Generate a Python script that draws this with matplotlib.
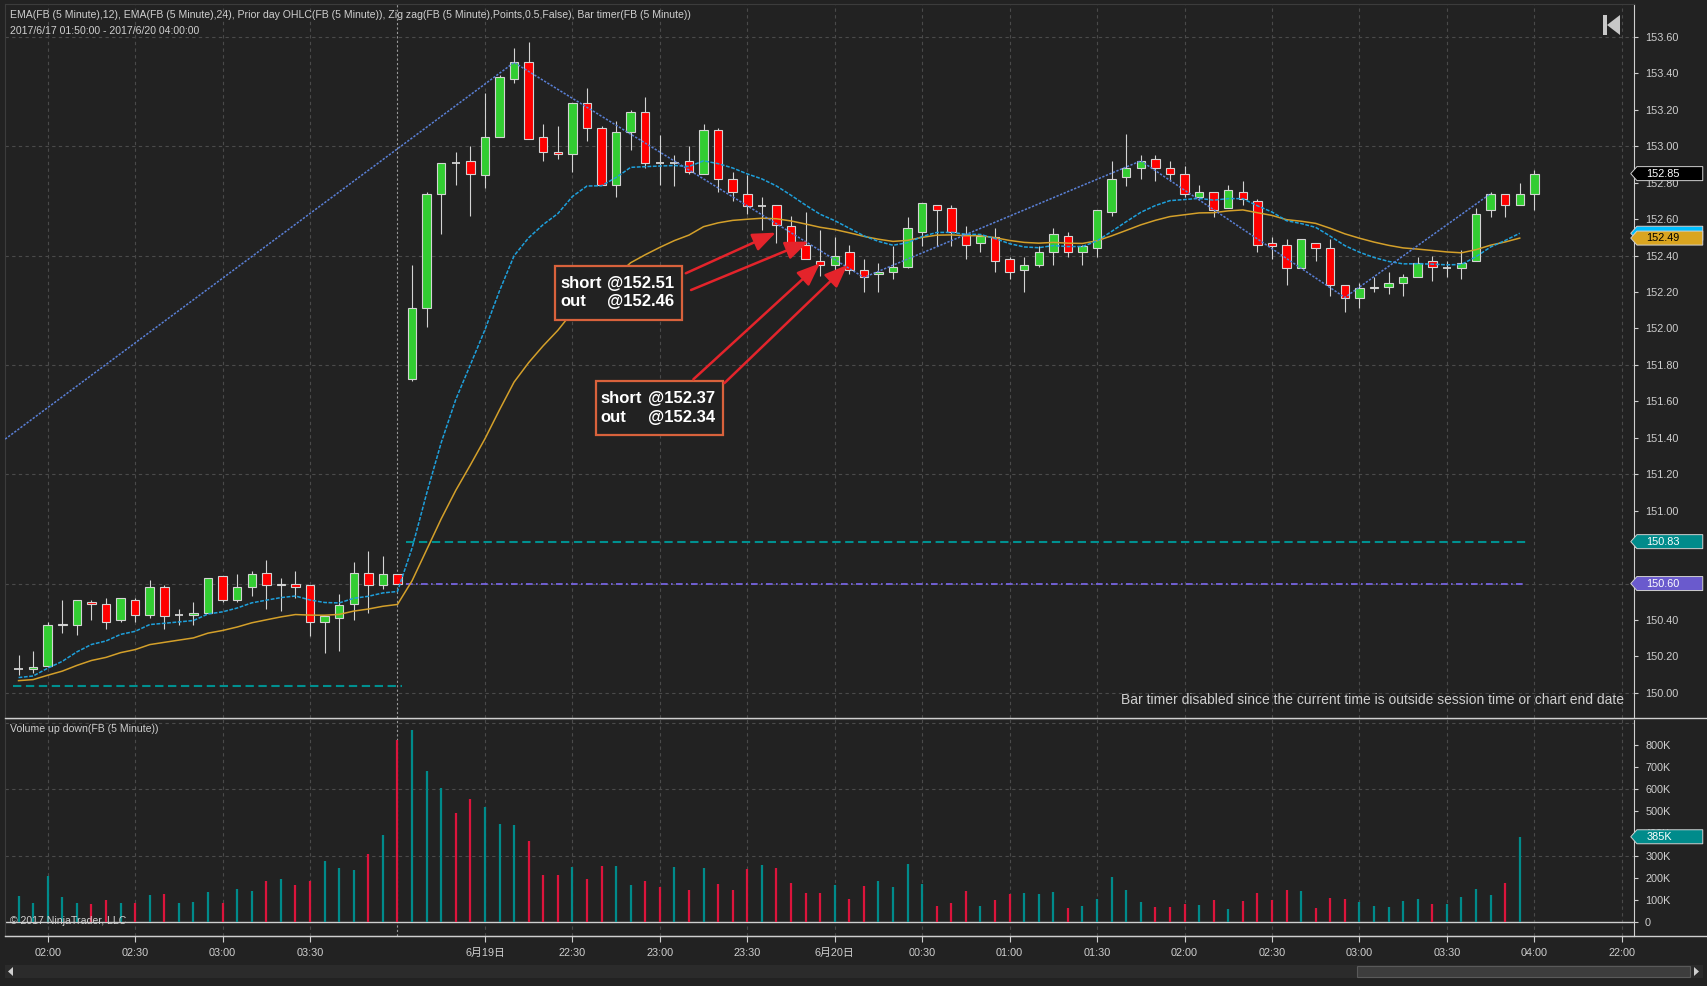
import numpy as np
import matplotlib
matplotlib.use("Agg")
import matplotlib.pyplot as plt
from matplotlib.patches import Rectangle, Polygon
from matplotlib.lines import Line2D
from matplotlib.transforms import blended_transform_factory

# ---- FB 5-minute bars (index 0 = 2017/6/17 01:50) ----
opens = [150.13, 150.13, 150.15, 150.37, 150.37, 150.50, 150.49, 150.40, 150.51, 150.43,
         150.58, 150.43, 150.43, 150.44, 150.64, 150.51, 150.58, 150.66, 150.59, 150.60,
         150.59, 150.39, 150.41, 150.49, 150.66, 150.59, 150.65, 151.72, 152.11, 152.74,
         152.91, 152.92, 152.84, 153.05, 153.37, 153.46, 153.05, 152.97, 152.96, 153.24,
         153.10, 152.79, 153.08, 153.19, 152.91, 152.91, 152.92, 152.85, 153.09, 152.82,
         152.74, 152.67, 152.68, 152.56, 152.46, 152.37, 152.35, 152.42, 152.32, 152.30,
         152.31, 152.34, 152.53, 152.68, 152.66, 152.52, 152.47, 152.50, 152.38, 152.32,
         152.35, 152.42, 152.51, 152.42, 152.44, 152.64, 152.83, 152.88, 152.93, 152.88,
         152.85, 152.72, 152.75, 152.66, 152.75, 152.70, 152.47, 152.46, 152.33, 152.47,
         152.44, 152.24, 152.17, 152.22, 152.23, 152.25, 152.28, 152.37, 152.33, 152.33,
         152.37, 152.65, 152.74, 152.68, 152.74]
highs = [150.21, 150.23, 150.39, 150.51, 150.51, 150.51, 150.52, 150.52, 150.52, 150.62,
         150.59, 150.46, 150.50, 150.63, 150.64, 150.65, 150.67, 150.73, 150.63, 150.67,
         150.59, 150.42, 150.54, 150.72, 150.78, 150.75, 150.65, 152.35, 152.75, 152.91,
         152.97, 153.00, 153.29, 153.39, 153.54, 153.57, 153.12, 153.11, 153.24, 153.32,
         153.11, 153.14, 153.20, 153.27, 153.06, 152.95, 153.00, 153.12, 153.10, 152.86,
         152.84, 152.72, 152.68, 152.62, 152.64, 152.54, 152.50, 152.46, 152.38, 152.36,
         152.45, 152.61, 152.69, 152.68, 152.68, 152.56, 152.51, 152.55, 152.39, 152.39,
         152.45, 152.55, 152.53, 152.46, 152.65, 152.92, 153.07, 152.95, 152.95, 152.92,
         152.89, 152.79, 152.75, 152.79, 152.81, 152.71, 152.50, 152.49, 152.49, 152.47,
         152.49, 152.24, 152.25, 152.28, 152.31, 152.30, 152.39, 152.40, 152.37, 152.43,
         152.66, 152.75, 152.74, 152.80, 152.87]
lows = [150.10, 150.11, 150.14, 150.33, 150.32, 150.40, 150.35, 150.39, 150.39, 150.41,
        150.35, 150.37, 150.37, 150.44, 150.50, 150.50, 150.53, 150.46, 150.45, 150.52,
        150.31, 150.22, 150.23, 150.40, 150.44, 150.57, 150.60, 151.71, 152.01, 152.52,
        152.79, 152.62, 152.77, 153.05, 153.35, 153.04, 152.92, 152.93, 152.86, 153.03,
        152.79, 152.72, 152.98, 152.88, 152.79, 152.78, 152.85, 152.85, 152.75, 152.70,
        152.63, 152.54, 152.47, 152.43, 152.38, 152.29, 152.29, 152.30, 152.20, 152.20,
        152.27, 152.33, 152.45, 152.45, 152.45, 152.38, 152.42, 152.31, 152.27, 152.20,
        152.34, 152.35, 152.39, 152.35, 152.39, 152.62, 152.78, 152.82, 152.81, 152.81,
        152.72, 152.71, 152.61, 152.66, 152.68, 152.42, 152.38, 152.24, 152.33, 152.37,
        152.18, 152.09, 152.11, 152.20, 152.19, 152.18, 152.28, 152.26, 152.28, 152.27,
        152.37, 152.61, 152.61, 152.68, 152.65]
closes = [150.13, 150.14, 150.37, 150.38, 150.51, 150.49, 150.39, 150.52, 150.43, 150.58,
          150.42, 150.43, 150.44, 150.63, 150.51, 150.58, 150.65, 150.59, 150.60, 150.58,
          150.39, 150.42, 150.48, 150.66, 150.59, 150.65, 150.60, 152.11, 152.74, 152.91,
          152.91, 152.85, 153.05, 153.38, 153.46, 153.04, 152.97, 152.96, 153.24, 153.10,
          152.79, 153.08, 153.19, 152.91, 152.91, 152.91, 152.86, 153.09, 152.82, 152.75,
          152.67, 152.67, 152.57, 152.45, 152.38, 152.35, 152.40, 152.32, 152.28, 152.31,
          152.34, 152.55, 152.69, 152.65, 152.53, 152.46, 152.51, 152.37, 152.31, 152.35,
          152.42, 152.52, 152.42, 152.45, 152.65, 152.82, 152.88, 152.92, 152.88, 152.85,
          152.74, 152.75, 152.65, 152.76, 152.71, 152.46, 152.45, 152.33, 152.49, 152.44,
          152.24, 152.17, 152.22, 152.23, 152.25, 152.28, 152.36, 152.34, 152.33, 152.36,
          152.63, 152.74, 152.68, 152.74, 152.85]

# volume in thousands (no volume bar drawn for the last, still open bar)
volumes_k = [116, 85, 207, 112, 85, 80, 98, 85, 85, 121, 125, 85, 89, 135, 85, 148, 139, 184, 193, 166,
             184, 275, 243, 234, 307, 393, 824, 869, 683, 605, 493, 556, 520, 443, 438, 366, 212, 212, 248, 193,
             252, 252, 166, 184, 157, 248, 144, 243, 171, 144, 239, 257, 243, 175, 130, 130, 166, 103, 162, 184,
             157, 262, 171, 71, 85, 139, 71, 98, 125, 130, 125, 135, 62, 71, 103, 203, 144, 89, 67, 67,
             80, 76, 98, 57, 94, 130, 98, 144, 139, 62, 107, 103, 89, 71, 67, 94, 103, 80, 80, 112,
             148, 121, 175, 385]
down_dojis = [30, 44]          # doji bars whose volume prints as "down"

ema12_seed = 150.084           # EMA values at the first visible bar
ema24_seed = 150.067
ema24_label = 152.49           # value printed in the EMA(24) axis tag

zz_bars = [-16, 34, 58, 77, 91, 101]   # zig zag pivots on closes
zz_first_price = 150.50                # off-screen pivot

prior_first = 150.04
prior_open = 150.83
prior_close = 150.60

tick_bars = [2, 8, 14, 20, 32, 38, 44, 50, 56, 62, 68, 74, 80, 86, 92, 98, 104, 110]
tick_labels = ["02:00", "02:30", "03:00", "03:30", "6月19日", "22:30", "23:00", "23:30", "6月20日",
               "00:30", "01:00", "01:30", "02:00", "02:30", "03:00", "03:30", "04:00", "22:00"]
session_break = 26

trade_entries = [152.51, 152.37]
trade_exits = [152.46, 152.34]

# ---- style ----
BG = "#222222"
TXT = "#cfcfcf"
GRID = "#4a4a4a"
WICK = "#d3d3d3"
UP, DOWN = "#32cd32", "#ff0000"
VUP, VDOWN = "#008b8b", "#dc143c"
plt.rcParams["font.family"] = ["Liberation Sans", "Noto Sans CJK SC", "DejaVu Sans"]

W, H = 1708, 986
def fx(px): return px / W
def fy(py): return 1 - py / H

fig = plt.figure(figsize=(W / 100, H / 100), dpi=100)
fig.patch.set_facecolor(BG)
ax = fig.add_axes([fx(5), fy(718), fx(1634) - fx(5), fy(4) - fy(718)])
axv = fig.add_axes([fx(5), fy(936), fx(1634) - fx(5), fy(719) - fy(936)], sharex=ax)

o, h, l, c = map(np.array, (opens, highs, lows, closes))
x = np.arange(len(c))
xlim = (-0.93, 110.84)

for a in (ax, axv):
    a.set_facecolor(BG)
    for s in a.spines.values():
        s.set_color("#3c3c3c")
    a.spines["right"].set_color(TXT)
    for b in tick_bars:
        a.axvline(b, color=GRID, lw=0.8, ls=(0, (3, 3)), zorder=0)
    a.axvline(session_break, color="#9a9a9a", lw=0.8, ls=(0, (2, 2)), zorder=1)
    a.yaxis.tick_right()
    a.tick_params(axis="y", colors=TXT, labelsize=7.8, length=3, width=0.8, pad=5)

# ---- price panel ----
for g in np.arange(150.0, 153.61, 0.6):
    ax.axhline(g, color=GRID, lw=0.8, ls=(0, (3, 3)), zorder=0)

# candles
ax.vlines(x, l, h, color=WICK, lw=0.8, zorder=3)
doji = np.abs(c - o) < 0.005
doji[down_dojis] = True
body = ~doji
ax.bar(x[body], np.abs(c - o)[body], bottom=np.minimum(o, c)[body], width=0.58,
       color=np.where(c > o, UP, DOWN)[body], edgecolor=WICK, lw=0.8, zorder=4)
ax.hlines(o[doji], x[doji] - 0.29, x[doji] + 0.29, color=WICK, lw=1.3, zorder=4)

# EMAs on closed bars
def ema(vals, seed, n):
    k = 2 / (n + 1)
    out = [seed]
    for v in vals[1:]:
        out.append(out[-1] + k * (v - out[-1]))
    return np.array(out)

nv = len(volumes_k)
ema12 = ema(c[:nv], ema12_seed, 12)
ema24 = ema(c[:nv], ema24_seed, 24)
ax.plot(x[:nv], ema24, color="#d4a02a", lw=1.1, zorder=5)
ax.plot(x[:nv], ema12, color="#1ea0dc", lw=1.1, ls=(0, (2.5, 1)), zorder=5)

# zig zag
zz_prices = [zz_first_price] + [c[b] for b in zz_bars[1:]]
ax.plot(zz_bars, zz_prices, color="#5a80d6", lw=1.1, ls=(0, (1.5, 1)), zorder=6)

# prior day OHLC
ax.hlines(prior_first, -0.4, session_break + 0.3, color="#009090", lw=1.5, ls=(0, (4, 2.2)), zorder=2)
ax.hlines(prior_open, session_break + 0.6, nv - 0.6, color="#009090", lw=1.5, ls=(0, (4, 2.2)), zorder=2)
ax.hlines(prior_close, session_break + 0.6, nv - 0.6, color="#7b68ee", lw=1.2, ls=(0, (4, 2, 1, 2)), zorder=2)

ax.set_xlim(*xlim)
ax.set_ylim(149.862, 153.781)
yt = np.round(np.arange(150.0, 153.61, 0.2), 2)
ax.set_yticks(yt)
# the 150.80 label sits fully under the prior-day tag
ax.set_yticklabels(["" if abs(v - prior_open) < 0.05 else f"{v:.2f}" for v in yt])
ax.tick_params(axis="x", bottom=False, labelbottom=False)

# trade annotations
boxes = [(36.81, 45.54, 152.048, 152.345, 37.15, 40.38, 152.197),
         (39.60, 48.36, 151.416, 151.714, 39.94, 43.17, 151.565)]
for (x0, x1, y0, y1, tx, tx2, ty), en, ex in zip(boxes, trade_entries, trade_exits):
    ax.add_patch(Rectangle((x0, y0), x1 - x0, y1 - y0, fc=BG, ec="#d9623c", lw=1.6, zorder=7))
    ax.text(tx, ty, "short\nout", color="white", fontsize=12, fontweight="bold",
            family="Liberation Sans", va="center", ha="left", linespacing=1.3, zorder=8)
    ax.text(tx2, ty, f"@{en:.2f}\n@{ex:.2f}", color="white", fontsize=12, fontweight="bold",
            family="Liberation Sans", va="center", ha="left", linespacing=1.3, zorder=8)

arrows = [((45.78, 152.303), (51.95, 152.526)),
          ((46.14, 152.211), (54.19, 152.477)),
          ((46.30, 151.721), (54.99, 152.358)),
          ((48.43, 151.700), (56.87, 152.349))]
for start, tip in arrows:
    ax.annotate("", xy=tip, xytext=start, zorder=9,
                arrowprops=dict(arrowstyle="-|>,head_length=1.0,head_width=0.4", color="#e4242b",
                                lw=1.8, mutation_scale=14, shrinkA=0, shrinkB=0))

# ---- volume panel ----
up_vol = c[:nv] >= o[:nv]
up_vol[down_dojis] = False
for g in (300, 600, 900):
    axv.axhline(g, color=GRID, lw=0.8, ls=(0, (3, 3)), zorder=0)
axv.axhline(0, color=TXT, lw=1.0, zorder=2)
axv.vlines(x[:nv], 0, volumes_k, colors=np.where(up_vol, VUP, VDOWN), lw=1.6, zorder=3)
axv.set_ylim(-65, 919)
axv.set_yticks(range(0, 801, 100))
axv.set_yticklabels(["0"] + [f"{v}K" for v in range(100, 801, 100)])
axv.set_xticks(tick_bars)
axv.set_xticklabels(tick_labels)
axv.tick_params(axis="x", colors=TXT, labelsize=7.8, length=4.3, width=0.8, pad=4)
axv.spines["bottom"].set_color(TXT)

# ---- right-hand value tags ----
def tag(a, yval, text, fc, tc, z=10):
    y0, y1 = a.get_ylim()
    hh = 7 * (y1 - y0) / a.bbox.height
    tr = blended_transform_factory(a.transAxes, a.transData)
    pts = [[0.998, yval], [1.0018, yval + hh], [1.0422, yval + hh], [1.0422, yval - hh], [1.0018, yval - hh]]
    a.add_patch(Polygon(pts, closed=True, transform=tr, fc=fc, ec="#d0d0d0", lw=0.7,
                        clip_on=False, zorder=z))
    a.text(1.0077, yval, text, transform=tr, ha="left", va="center", color=tc,
           fontsize=7.8, clip_on=False, zorder=z + 1)

tag(ax, c[-1], f"{c[-1]:.2f}", "black", "white")
tag(ax, ema12[-1], "", "#00bfff", "black")
tag(ax, ema24[-1], f"{ema24_label:.2f}", "#daa520", "black", z=12)
tag(ax, prior_open, f"{prior_open:.2f}", "#008b8b", "white")
tag(ax, prior_close, f"{prior_close:.2f}", "#6a5acd", "white")
tag(axv, volumes_k[-1], f"{volumes_k[-1]}K", "#008b8b", "white")

# ---- texts ----
fig.text(fx(10), fy(15), "EMA(FB (5 Minute),12), EMA(FB (5 Minute),24), Prior day OHLC(FB (5 Minute)), "
         "Zig zag(FB (5 Minute),Points,0.5,False), Bar timer(FB (5 Minute))",
         color=TXT, fontsize=7.6, va="center")
fig.text(fx(10), fy(31), "2017/6/17 01:50:00 - 2017/6/20 04:00:00", color=TXT, fontsize=7.6, va="center")
fig.text(fx(1624), fy(700), "Bar timer disabled since the current time is outside session time or chart end date",
         color=TXT, fontsize=10, ha="right", va="center")
fig.text(fx(10), fy(729), "Volume up down(FB (5 Minute))", color=TXT, fontsize=7.6, va="center")
fig.text(fx(10), fy(921), "© 2017 NinjaTrader, LLC", color=TXT, fontsize=7.6, va="center")

# panel separators, scrollbar and the "go to end" icon
for py in (718, 936):
    fig.add_artist(Line2D([fx(5), 1], [fy(py), fy(py)], color=TXT, lw=1.0))
fig.add_artist(Rectangle((fx(5), fy(978)), fx(1703) - fx(5), fy(965) - fy(978), fc="#2b2b2b", ec="none"))
fig.add_artist(Rectangle((fx(1357), fy(977)), fx(1690) - fx(1357), fy(966) - fy(977),
                         fc="#3d3d3d", ec="#5a5a5a", lw=0.8))
fig.add_artist(Polygon([[fx(8), fy(971.5)], [fx(13), fy(967)], [fx(13), fy(976)]], fc=TXT, ec="none"))
fig.add_artist(Polygon([[fx(1699), fy(971.5)], [fx(1694), fy(967)], [fx(1694), fy(976)]], fc=TXT, ec="none"))
fig.add_artist(Rectangle((fx(1603), fy(35)), fx(1607) - fx(1603), fy(15) - fy(35), fc="#c8c8c8", ec="none"))
fig.add_artist(Polygon([[fx(1620), fy(15)], [fx(1620), fy(35)], [fx(1607), fy(25)]], fc="#c8c8c8", ec="none"))

fig.savefig("out.png", dpi=100, facecolor=BG)
